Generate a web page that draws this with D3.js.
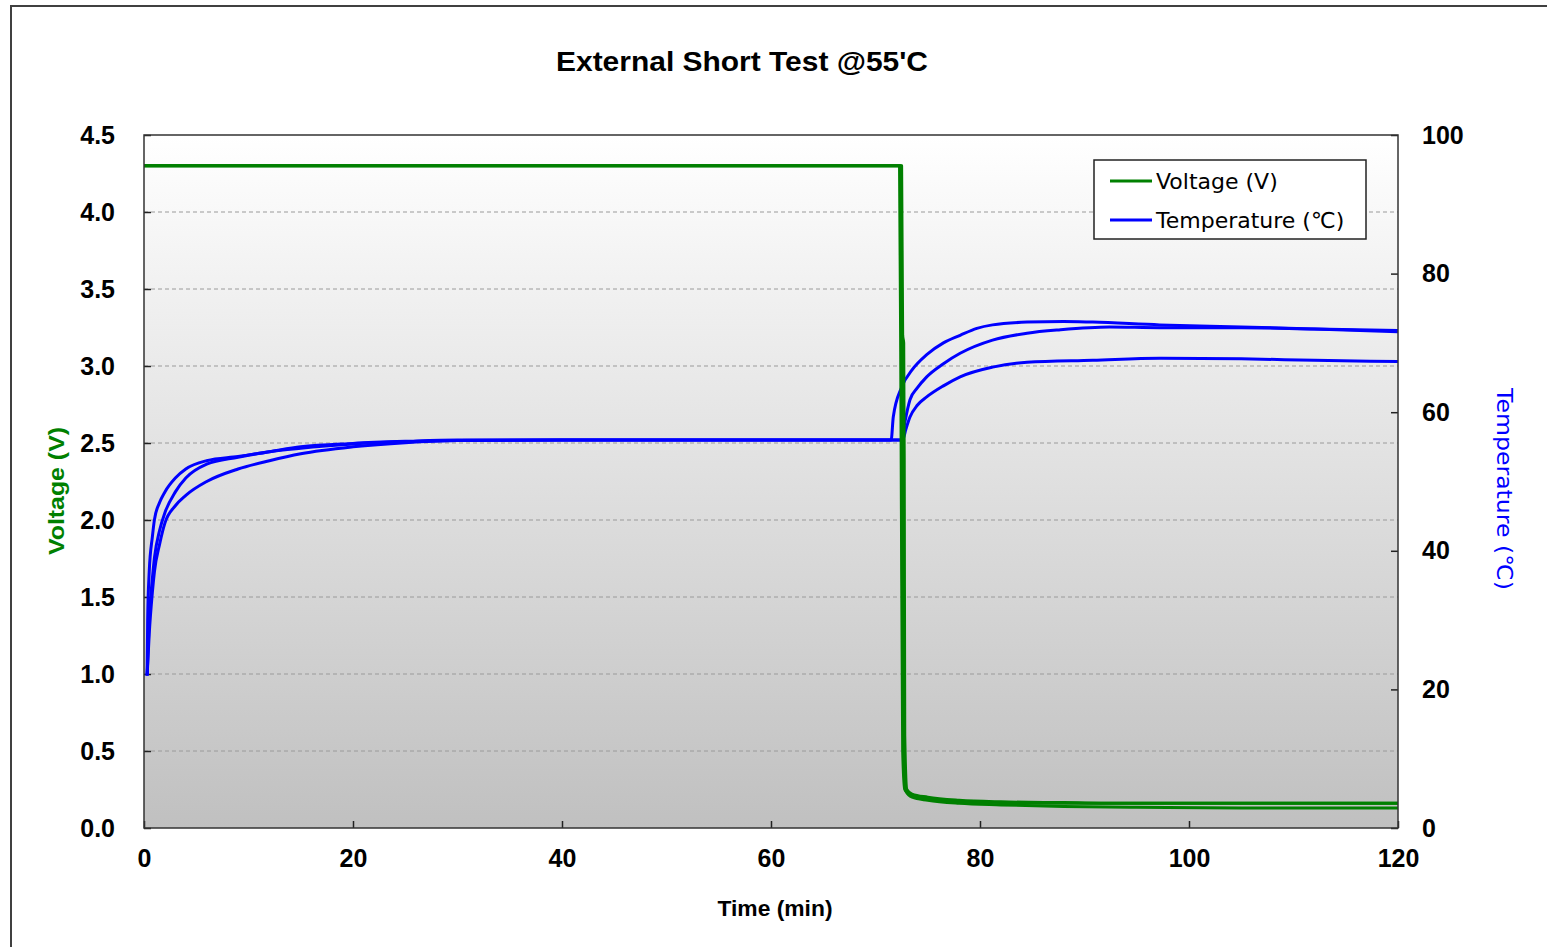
<!DOCTYPE html>
<html><head><meta charset="utf-8">
<script src="https://cdn.jsdelivr.net/npm/d3@7/dist/d3.min.js"></script>
<style>body{margin:0;background:#fff}svg{display:block}</style>
</head><body>
<svg id="c" width="1547" height="947"></svg>
<script>
// ---------- DATA ----------
const title = "External Short Test @55'C";
const xTicks = [0, 20, 40, 60, 80, 100, 120];
const vTicks = [0.0, 0.5, 1.0, 1.5, 2.0, 2.5, 3.0, 3.5, 4.0, 4.5];
const tTicks = [0, 20, 40, 60, 80, 100];
const seriesNames = ["Voltage (V)", "Temperature (\u2103)"];

// Voltage curves (time min, volts)
const v1Time = [0, 72.3, 72.45, 72.6, 72.8, 73.5, 75, 78, 82, 88, 95, 105, 120];
const v1Val  = [4.30, 4.30, 2.5, 0.5, 0.25, 0.21, 0.19, 0.175, 0.165, 0.16, 0.16, 0.16, 0.16];
const v2Time = [0, 72.4, 72.55, 72.7, 72.9, 73.5, 75, 78, 82, 88, 95, 105, 120];
const v2Val  = [4.30, 4.30, 2.0, 0.45, 0.24, 0.2, 0.18, 0.16, 0.15, 0.14, 0.135, 0.13, 0.13];
const v3Time = [0, 72.5, 72.6, 72.7, 72.75, 72.8, 73, 73.5, 75, 78, 82, 88, 95, 105, 120];
const v3Val  = [4.30, 4.30, 3.2, 3.15, 2.4, 0.6, 0.25, 0.22, 0.2, 0.18, 0.17, 0.165, 0.16, 0.16, 0.16];

// Temperature curves (time min, deg C)
const t1Time = [0.3, 0.35, 0.5, 0.8, 1, 1.5, 2, 3, 4, 6, 9, 12, 15, 20, 25, 30, 40, 71.5, 71.7, 72.5, 73.5, 74.9, 76.5, 78.1, 79.7, 81.2, 84.5, 88, 90.8, 97.2, 105, 112, 120];
const t1Val  = [22, 30, 37, 42, 44.5, 47, 48.5, 50.5, 51.8, 53, 53.6, 54.3, 55, 55.5, 55.8, 56, 56, 56, 59.3, 63.6, 66.1, 68.3, 70.0, 71.1, 72.1, 72.6, 73.0, 73.1, 73.0, 72.6, 72.3, 72.0, 71.6];
const t2Time = [0.3, 0.5, 0.8, 1, 1.5, 2, 3, 4, 6, 9, 12, 15, 20, 30, 40, 72.5, 72.8, 73.3, 74, 74.9, 76.5, 78.1, 81.2, 84.5, 87.7, 92.4, 97.2, 105, 112, 120];
const t2Val  = [22, 30, 36, 39, 43, 45.5, 48.5, 50.5, 52.5, 53.5, 54.3, 54.8, 55.4, 55.9, 56, 56, 58.5, 61.8, 63.5, 65.1, 67, 68.5, 70.4, 71.4, 71.9, 72.3, 72.2, 72.2, 72.0, 71.8];
const t3Time = [0.3, 0.5, 0.8, 1, 1.5, 2, 3, 4, 6, 9, 12, 15, 20, 25, 30, 40, 72.6, 72.9, 73.3, 74, 74.9, 76.5, 78.1, 81.2, 84.5, 90.8, 97.2, 105, 112, 120];
const t3Val  = [22, 28, 34, 37, 41, 44, 46.5, 48, 50, 51.8, 53, 54, 55, 55.6, 55.9, 56, 56, 57.5, 59.3, 61, 62.2, 63.8, 65.1, 66.5, 67.2, 67.5, 67.8, 67.7, 67.5, 67.3];

// ---------- CHART ----------
const svg = d3.select("#c");
const L = 144, R = 1398, T = 135, B = 828;
const x = d3.scaleLinear().domain([0, 120]).range([L, R]);
const yV = d3.scaleLinear().domain([0, 4.5]).range([B, T]);
const yT = d3.scaleLinear().domain([0, 100]).range([B, T]);
const GREEN = "#008000", BLUE = "#0000ff";

// outer frame
svg.append("path").attr("d", "M11,947 V6 H1547").attr("fill", "none").attr("stroke", "#404040").attr("stroke-width", 2);

// gradient
const defs = svg.append("defs");
const g = defs.append("linearGradient").attr("id", "bg").attr("x1", 0).attr("y1", 0).attr("x2", 0).attr("y2", 1);
g.append("stop").attr("offset", "0%").attr("stop-color", "#ffffff");
g.append("stop").attr("offset", "100%").attr("stop-color", "#c0c0c0");
defs.append("clipPath").attr("id", "clip").append("rect").attr("x", L).attr("y", T).attr("width", R - L).attr("height", B - T);

svg.append("rect").attr("x", L).attr("y", T).attr("width", R - L).attr("height", B - T).attr("fill", "url(#bg)");

// gridlines
svg.append("g").selectAll("line").data(vTicks.filter(d => d > 0 && d < 4.5)).join("line")
  .attr("x1", L).attr("x2", R).attr("y1", d => yV(d)).attr("y2", d => yV(d))
  .attr("stroke", "#9a9a9a").attr("stroke-width", 1).attr("stroke-dasharray", "4,3");

// axes (ticks inside)
const fontB = "'Liberation Sans', Arial, sans-serif";
function styleAxis(sel) {
  sel.select(".domain").remove();
  sel.selectAll(".tick line").attr("stroke", "#222").attr("stroke-width", 1.5);
  sel.selectAll(".tick text").attr("font-family", fontB).attr("font-weight", "bold").attr("font-size", 25).attr("fill", "#000");
}
svg.append("g").attr("transform", `translate(${L},0)`)
  .call(d3.axisLeft(yV).tickValues(vTicks).tickFormat(d3.format(".1f")).tickSizeInner(-7).tickSizeOuter(0).tickPadding(29))
  .call(styleAxis);
svg.append("g").attr("transform", `translate(${R},0)`)
  .call(d3.axisRight(yT).tickValues(tTicks).tickSizeInner(-7).tickSizeOuter(0).tickPadding(24))
  .call(styleAxis);
svg.append("g").attr("transform", `translate(0,${B})`)
  .call(d3.axisBottom(x).tickValues(xTicks).tickSizeInner(-7).tickSizeOuter(0).tickPadding(21))
  .call(styleAxis);

// lines
const plot = svg.append("g").attr("clip-path", "url(#clip)");
const mk = (ts, vs) => ts.map((t, i) => [t, vs[i]]);
const lineV = d3.line().x(d => x(d[0])).y(d => yV(d[1])).curve(d3.curveMonotoneX);
const lineT = d3.line().x(d => x(d[0])).y(d => yT(d[1])).curve(d3.curveMonotoneX);
[[t1Time, t1Val], [t2Time, t2Val], [t3Time, t3Val]].forEach(([a, b]) => {
  plot.append("path").attr("d", lineT(mk(a, b))).attr("fill", "none").attr("stroke", BLUE).attr("stroke-width", 3).attr("stroke-linejoin", "round");
});
[[v1Time, v1Val], [v2Time, v2Val], [v3Time, v3Val]].forEach(([a, b]) => {
  plot.append("path").attr("d", lineV(mk(a, b))).attr("fill", "none").attr("stroke", GREEN).attr("stroke-width", 3).attr("stroke-linejoin", "round");
});

// plot border
svg.append("rect").attr("x", L).attr("y", T).attr("width", R - L).attr("height", B - T)
  .attr("fill", "none").attr("stroke", "#333").attr("stroke-width", 1.5);

// title
svg.append("text").attr("x", 742).attr("y", 71).attr("text-anchor", "middle")
  .attr("font-family", fontB).attr("font-weight", "bold").attr("font-size", 27)
  .attr("textLength", 372).attr("lengthAdjust", "spacingAndGlyphs").text(title);

// axis titles
svg.append("text").attr("x", 775).attr("y", 916).attr("text-anchor", "middle")
  .attr("font-family", fontB).attr("font-weight", "bold").attr("font-size", 22)
  .attr("textLength", 115).attr("lengthAdjust", "spacingAndGlyphs").text("Time (min)");
svg.append("text").attr("transform", "translate(64,491) rotate(-90)").attr("text-anchor", "middle")
  .attr("font-family", fontB).attr("font-weight", "bold").attr("font-size", 22).attr("fill", GREEN)
  .attr("textLength", 128).attr("lengthAdjust", "spacingAndGlyphs").text("Voltage (V)");
svg.append("text").attr("transform", "translate(1497,489) rotate(90)").attr("text-anchor", "middle")
  .attr("font-family", "'DejaVu Sans', Verdana, sans-serif").attr("font-size", 22).attr("fill", BLUE)
  .attr("textLength", 202).attr("lengthAdjust", "spacingAndGlyphs").text("Temperature (\u2103)");

// legend
const lg = svg.append("g");
lg.append("rect").attr("x", 1094).attr("y", 160).attr("width", 272).attr("height", 79)
  .attr("fill", "#fff").attr("stroke", "#222").attr("stroke-width", 1.5);
[[GREEN, 181], [BLUE, 220]].forEach(([c, yy], i) => {
  lg.append("line").attr("x1", 1110).attr("x2", 1152).attr("y1", yy).attr("y2", yy).attr("stroke", c).attr("stroke-width", 3);
  lg.append("text").attr("x", 1156).attr("y", yy + 8).attr("font-family", "'DejaVu Sans', Verdana, sans-serif")
    .attr("font-size", 22).attr("fill", "#000").text(seriesNames[i]);
});
</script>
</body></html>
